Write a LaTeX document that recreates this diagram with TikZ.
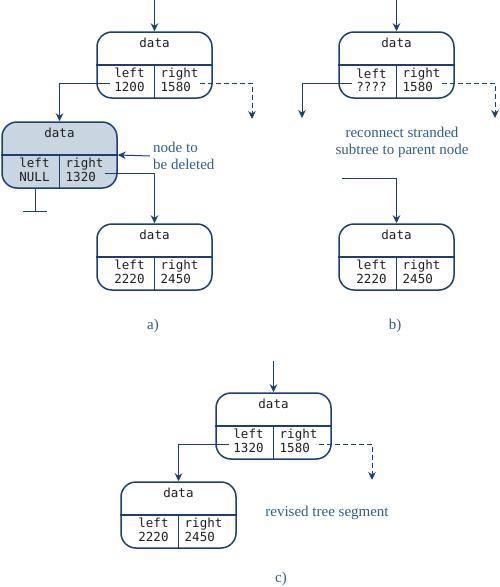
\documentclass[tikz,border=0pt]{standalone}
\usepackage{fontspec}
\setmainfont{Liberation Serif}
\newfontfamily\monofont{DejaVu Sans Mono}
\usepackage{xcolor}
\usepackage{tikz}
\usetikzlibrary{calc,arrows.meta,positioning}
\definecolor{linec}{HTML}{1B3F73}
\definecolor{labc}{HTML}{2F5D8C}
\definecolor{inkc}{HTML}{1E1E1E}
\definecolor{delfill}{HTML}{C9D5E1}
\tikzset{
  dline/.style={draw=linec,line width=1.1pt},
  ptr/.style={-{Stealth[length=8pt,width=7.5pt]},linec,line width=1pt},
  dptr/.style={ptr,dash pattern=on 5pt off 3pt},
  dnode/.style={dline,line width=1.5pt,rounded corners=15pt,minimum width=115pt,minimum height=66pt,fill=white,inner sep=0pt},
  mono/.style={font=\monofont\fontsize{12.5}{13.5}\selectfont,text=inkc,inner sep=0pt},
  lab/.style={font=\fontsize{15}{17}\selectfont,text=labc,inner sep=3pt}
}
% one record: data / left | right
\newcommand{\datanode}[5][]{%
  \node[dnode,#1] (#2) at (#3) {};
  \draw[dline] (#2.west) -- (#2.east);
  \draw[dline] (#2.center) -- (#2.south);
  \node[mono] (#2-d) at ($(#2.north)+(0,12)$) {data};
  \node[mono,align=center] (#2-lt) at ($(#2.center)+(-25,15)$) {left\\#4};
  \node[mono,align=left,anchor=west] (#2-rt) at ($(#2.center)+(6,15)$) {right\\#5};
  \coordinate (#2-l) at ($(#2.center)+(-45,18)$);
  \coordinate (#2-r) at ($(#2.center)+(45,18)$);
}

\begin{document}
\begin{tikzpicture}[x=1pt,y=-1pt]
\useasboundingbox[fill=white] (0,0) rectangle (500,587);

% a) node to be deleted
\datanode{at}{154.5,65}{1200}{1580}
\datanode[fill=delfill]{del}{59.5,155}{NULL}{1320}
\datanode{ab}{154.5,257}{2220}{2450}
\coordinate (at-in) at (154.5,0);
\coordinate (at-rend) at (252,119);
\coordinate (gnd) at (35,211);
\draw[ptr] (at-in) -- (at.north);
\draw[ptr] (at-l) -| (del.north);
\draw[dptr] (at-r) -| (at-rend);
\node[lab,align=left,anchor=west] (dellbl) at (150,156) {node to\\be deleted};
\draw[ptr] (dellbl.west) -- (del.east);
\draw[dline,line width=1pt] (gnd |- del.south) -- (gnd);
\draw[dline,line width=1pt] ($(gnd)+(-12,0)$) -- ($(gnd)+(12,0)$);
\draw[ptr] (del-r) -| (ab.north);
\node[lab] (cap-a) at (153,326) {a)};

% b) reconnect
\datanode{bt}{396.5,65}{????}{1580}
\datanode{bb}{396.5,257}{2220}{2450}
\coordinate (bt-in) at (396.5,0);
\coordinate (bt-lend) at (302,118);
\coordinate (bt-rend) at (495,118);
\coordinate (bb-start) at (342,178);
\draw[ptr] (bt-in) -- (bt.north);
\draw[ptr] (bt-l) -| (bt-lend);
\draw[dptr] (bt-r) -| (bt-rend);
\node[lab,align=center] (reclbl) at (402,142) {reconnect stranded\\subtree to parent node};
\draw[ptr] (bb-start) -| (bb.north);
\node[lab] (cap-b) at (395,326) {b)};

% c) revised segment
\datanode{ct}{273.5,426}{1320}{1580}
\datanode{cb}{178.5,515}{2220}{2450}
\coordinate (ct-in) at (273.5,361);
\coordinate (ct-rend) at (372,480);
\draw[ptr] (ct-in) -- (ct.north);
\draw[ptr] (ct-l) -| (cb.north);
\draw[dptr] (ct-r) -| (ct-rend);
\node[lab] (revlbl) at (327,513) {revised tree segment};
\node[lab] (cap-c) at (281,579) {c)};
\end{tikzpicture}
\end{document}
